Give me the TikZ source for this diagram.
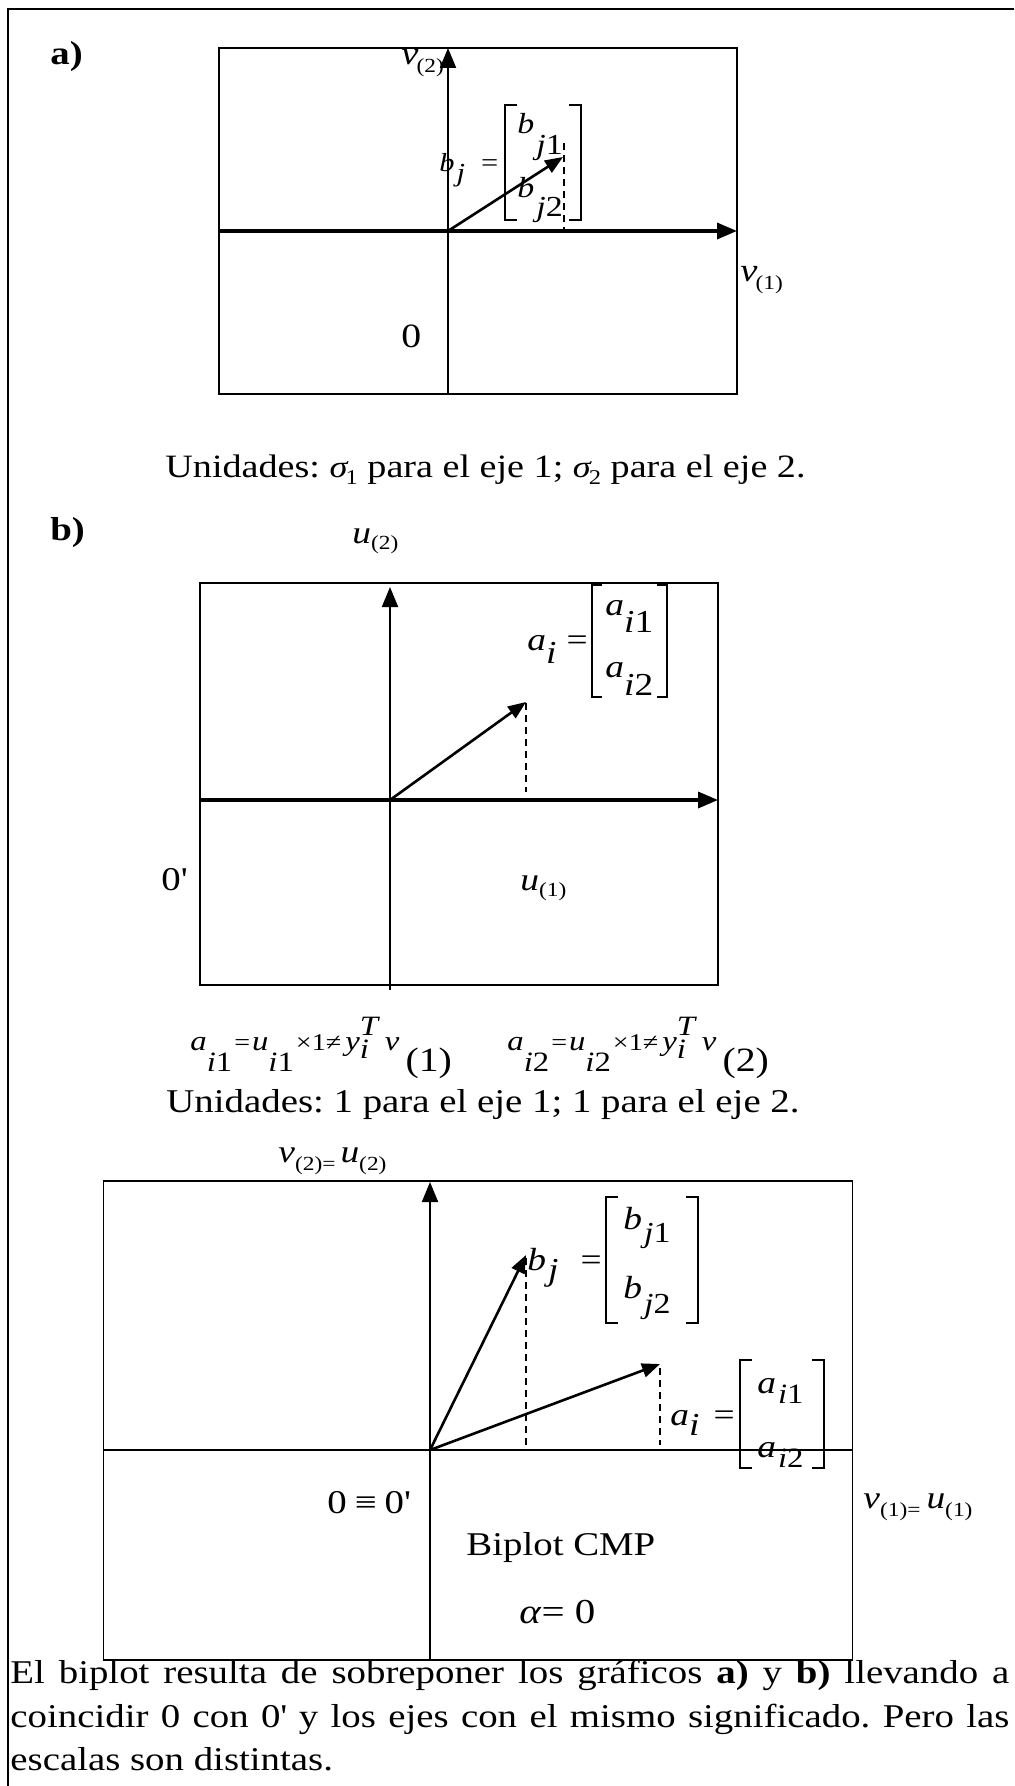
\documentclass[tikz,border=0pt]{standalone}
\usepackage{fontspec}
\setmainfont{Liberation Serif}[FakeStretch=1.17]
\usetikzlibrary{arrows.meta}
\newcommand{\fsz}[1]{\fontsize{#1}{#1}\selectfont}
\tikzset{
  marco/.style={line width=1pt},
  caja/.style={line width=0.9pt},
  eje/.style={line width=1pt, -{Triangle[length=10pt,width=8pt]}},
  ejeg/.style={line width=1.7pt, -{Triangle[length=10pt,width=8pt]}},
  vec/.style={line width=1.3pt, -{Triangle[length=9pt,width=7pt]}},
  guia/.style={line width=0.7pt, dash pattern=on 3.5pt off 2.5pt},
  corch/.style={line width=0.6pt},
  txt/.style={inner sep=0pt, anchor=base west},
}

\begin{document}
\frenchspacing
\begin{tikzpicture}[x=0.5pt, y=-0.5pt, font={\fontsize{16.6}{21.75}\selectfont\frenchspacing}]
        % 背景
        \fill[white] (0,0) rectangle (1014,1786);
        \useasboundingbox (0,0) rectangle (1014,1786);
        % 外枠（左と上だけ）
        \draw[marco] (8,1786) -- (8,9) -- (1014,9);

        % a) の枠と軸
        \node[txt] (etqa) at (50,65) {\bfseries a)};
        \draw[caja] (219,48) rectangle (737,394);
        \coordinate (Oa) at (448,231);
        \coordinate (Ya) at (448,48);
        \coordinate (Xa) at (737,231);
        \coordinate (Bja) at (563,157);
        \draw[eje] (448,394) -- (Ya);
        \draw[ejeg] (219,231) -- (Xa);
        \draw[vec] (Oa) -- (Bja);
        \draw[guia] (564,143) -- (564,233);
        % a) のラベル
        \node[txt] (v2a) at (401,65) {\fsz{16.5}\textit{v}\kern-1pt\raisebox{-4pt}{\fsz{10}(2)}};
        \node[txt] (v1a) at (740,282) {\fsz{16.5}\textit{v}\kern-1pt\raisebox{-4pt}{\fsz{10}(1)}};
        \node[txt] (ceroa) at (401,348) {\fsz{17}0};
        \node[txt] (bja) at (439,172) {\fsz{13}\textit{b}\kern1pt\raisebox{-5pt}{\textit{j}}\kern8pt=};
        \node[txt] (bj1a) at (517,134) {\fsz{14.5}\textit{b}\kern1pt\raisebox{-10.5pt}{\textit{j}1}};
        \node[txt] (bj2a) at (517,198) {\fsz{14.5}\textit{b}\kern1pt\raisebox{-9.5pt}{\textit{j}2}};
        \draw[corch] (517,105) -- (505,105) -- (505,220) -- (517,220);
        \draw[corch] (569,105) -- (581,105) -- (581,220) -- (569,220);
        % 単位
        \node[txt] (unida) at (165,478) {\fsz{16.3}Unidades: {\fsz{15.5}\textit{σ}}\kern-1.5pt\raisebox{-3.5pt}{\fsz{10.5}1} para el eje 1; {\fsz{15.5}\textit{σ}}\kern-1.5pt\raisebox{-3.5pt}{\fsz{10.5}2} para el eje 2.};

        % b) の枠と軸
        \node[txt] (etqb) at (50,540) {\bfseries b)};
        \node[txt] (u2b) at (352,543) {\fsz{16}\textit{u}\raisebox{-3pt}{\fsz{10}(2)}};
        \draw[caja] (200,583) rectangle (718,985);
        \coordinate (Ob) at (390,800);
        \coordinate (Yb) at (390,587);
        \coordinate (Xb) at (718,800);
        \coordinate (Aib) at (526,702);
        \draw[eje] (390,990) -- (Yb);
        \draw[ejeg] (200,800) -- (Xb);
        \draw[vec] (Ob) -- (Aib);
        \draw[guia] (526,703) -- (526,792);
        % b) のラベル
        \node[txt] (aib) at (527,650) {\fsz{16}\textit{a}\raisebox{-6.5pt}{\textit{i}}\kern5pt=};
        \node[txt] (ai1b) at (605,615) {\fsz{16}\textit{a}\raisebox{-8.5pt}{\textit{i}1}};
        \node[txt] (ai2b) at (605,677) {\fsz{16}\textit{a}\raisebox{-9pt}{\textit{i}2}};
        \draw[corch] (602,585) -- (592,585) -- (592,697) -- (602,697);
        \draw[corch] (657,585) -- (667,585) -- (667,697) -- (657,697);
        \node[txt] (cerob) at (161,890) {0\textquotesingle};
        \node[txt] (u1b) at (520,890) {\fsz{16}\textit{u}\raisebox{-3pt}{\fsz{10}(1)}};
        % 式と単位
        \node[txt] (ec1) at (190,1050) {\fsz{14}\textit{a}\raisebox{-10.5pt}{\textit{i}1}\kern1pt{\fsz{12}=}\kern1pt\textit{u}\raisebox{-10.5pt}{\textit{i}1}\kern1pt{\fsz{12}×1≠}\kern2pt\textit{y}\rlap{\raisebox{-4pt}{\textit{i}}}\raisebox{7.5pt}{\textit{T}}\kern2.5pt\textit{v}\kern3pt\raisebox{-10.5pt}{\fsz{17}(1)}};
        \node[txt] (ec2) at (507,1050) {\fsz{14}\textit{a}\raisebox{-10.5pt}{\textit{i}2}\kern1pt{\fsz{12}=}\kern1pt\textit{u}\raisebox{-10.5pt}{\textit{i}2}\kern1pt{\fsz{12}×1≠}\kern2pt\textit{y}\rlap{\raisebox{-4pt}{\textit{i}}}\raisebox{7.5pt}{\textit{T}}\kern2.5pt\textit{v}\kern3pt\raisebox{-10.5pt}{\fsz{17}(2)}};
        \node[txt] (unidb) at (166,1112) {Unidades: 1 para el eje 1; 1 para el eje 2.};

        % 重ね合わせ（Biplot）
        \node[txt] (v2c) at (278,1162) {\fsz{16}\textit{v}\raisebox{-4pt}{\fsz{10}(2)=}\kern2.5pt\textit{u}\raisebox{-4pt}{\fsz{10}(2)}};
        \draw[caja] (103.5,1181) rectangle (852.5,1660);
        \coordinate (Oc) at (430,1450);
        \coordinate (Yc) at (430,1182);
        \coordinate (Bjc) at (526,1255);
        \coordinate (Aic) at (660,1364);
        \draw[eje] (430,1660) -- (Yc);
        \draw[caja] (103.5,1450) -- (852.5,1450);
        \draw[vec] (Oc) -- (Bjc);
        \draw[vec] (Oc) -- (Aic);
        \draw[guia] (526,1258) -- (526,1449);
        \draw[guia] (660,1368) -- (660,1445);
        % Biplot のラベル
        \node[txt] (bjc) at (527,1270) {\fsz{16}\textit{b}\kern1pt\raisebox{-5pt}{\textit{j}}\kern11pt=};
        \node[txt] (bj1c) at (623,1229) {\fsz{16}\textit{b}\kern1pt\raisebox{-6.5pt}{\fsz{14.5}\textit{j}1}};
        \node[txt] (bj2c) at (623,1298) {\fsz{16}\textit{b}\kern1pt\raisebox{-7.5pt}{\fsz{14.5}\textit{j}2}};
        \draw[corch] (618,1197) -- (606,1197) -- (606,1323) -- (618,1323);
        \draw[corch] (686,1197) -- (698,1197) -- (698,1323) -- (686,1323);
        \node[txt] (aic) at (670,1425) {\fsz{16}\textit{a}\raisebox{-5pt}{\textit{i}}\kern7pt=};
        \node[txt] (ai1c) at (757,1393) {\fsz{16}\textit{a}\kern1pt\raisebox{-5pt}{\fsz{14}\textit{i}1}};
        \node[txt] (ai2c) at (757,1457) {\fsz{16}\textit{a}\kern1pt\raisebox{-5pt}{\fsz{14}\textit{i}2}};
        \draw[corch] (752,1360) -- (740,1360) -- (740,1468) -- (752,1468);
        \draw[corch] (812,1360) -- (824,1360) -- (824,1468) -- (812,1468);
        \node[txt] (ceroc) at (327,1513) {0\kern4pt ≡\kern4pt 0\textquotesingle};
        \node[txt] (v1c) at (863,1508) {\fsz{16}\textit{v}\raisebox{-4pt}{\fsz{10}(1)=}\kern3pt\textit{u}\raisebox{-4pt}{\fsz{10}(1)}};
        \node[txt] (biplot) at (466,1555) {Biplot CMP};
        \node[txt] (alfa) at (519,1623) {\fsz{17.5}\textit{α}= 0};

        % 説明文
        \node[txt] (par1) at (10,1683) {\makebox[499.5pt][s]{El biplot resulta de sobreponer los gráficos \textbf{a)} y \textbf{b)} llevando a}};
        \node[txt] (par2) at (10,1727) {\makebox[499.5pt][s]{coincidir 0 con 0\textquotesingle{} y los ejes con el mismo significado. Pero las}};
        \node[txt] (par3) at (10,1770) {escalas son distintas.};
\end{tikzpicture}
\end{document}
